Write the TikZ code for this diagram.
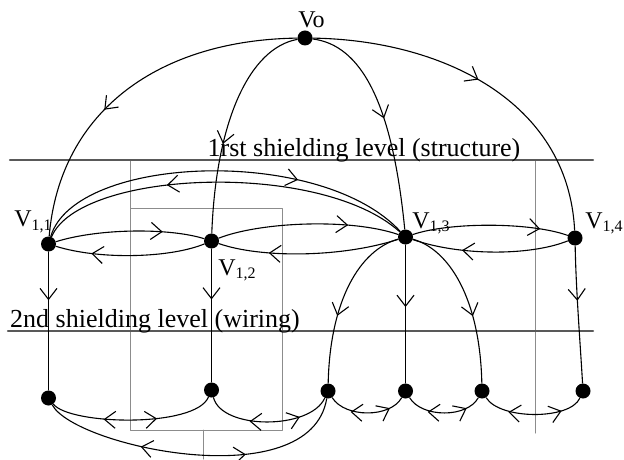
\documentclass[tikz,border=0pt]{standalone}
\usepackage{fontspec}
\setmainfont{Liberation Serif}
\usetikzlibrary{arrows.meta,decorations.markings}

\begin{document}
\begin{tikzpicture}[
  x=0.5pt,y=-0.5pt,
  line cap=round,
  line join=round,
  >={Straight Barb[length=5.5pt,width=8.5pt]},
  dot/.style={circle,fill=black,inner sep=0pt,minimum size=7.5pt},
  flow/.style={line width=0.55pt},
  arrowat/.style={postaction={decorate,decoration={markings,
    mark=at position #1 with {\arrow{>}}}}},
  arrowback/.style={postaction={decorate,decoration={markings,
    mark=at position #1 with {\arrow{<}}}}},
  level line/.style={draw=black!65,line width=1.1pt},
  box line/.style={draw=black!45,line width=0.5pt},
  label text/.style={font=\fontsize{12}{14}\selectfont,inner sep=0pt},
  level text/.style={font=\fontsize{13}{15}\selectfont,inner sep=0pt}
]
\useasboundingbox (0,0) rectangle (624,459);

% Shielding levels and the boxes behind the graph.
\draw[box line] (130,160) -- (130,430);
\draw[box line] (130,209) rectangle (282,430);
\draw[box line] (535,160) -- (535,433);
\draw[box line] (203,430) -- (203,459);
\draw[level line] (10,160) -- (593,160);
\draw[level line] (8,331) -- (593,331);
\node[level text,anchor=base] (lvlone) at (364,157)
  {1rst shielding level (structure)};
\node[level text,anchor=base] (lvltwo) at (155,327)
  {2nd shielding level (wiring)};

% Vertices.
\node[dot] (v0) at (305,38) {};
\foreach \n/\x/\y in {v11/48.5/244,v12/211.5/241,v13/405.5/237,v14/575/238} {
  \node[dot] (\n) at (\x,\y) {};
}
\foreach \n/\x/\y in {b1/48.5/398,b2/211.5/390,b3/328/391,
                      b4/405.5/391,b5/482/391,b6/583/391} {
  \node[dot] (\n) at (\x,\y) {};
}

\node[label text,anchor=base west] (lv0) at (298,28) {Vo};
\node[label text,anchor=base west] (lv11) at (14,227) {V\textsubscript{1,1}};
\node[label text,anchor=base west] (lv12) at (218,275) {V\textsubscript{1,2}};
\node[label text,anchor=base west] (lv13) at (412,228) {V\textsubscript{1,3}};
\node[label text,anchor=base west] (lv14) at (585,228) {V\textsubscript{1,4}};

% From the source to the first level.
\draw[flow,arrowat=0.6] (v0) .. controls (160,40) and (60,110) .. (v11);
\draw[flow,arrowat=0.6] (v0) .. controls (250,48) and (216,120) .. (v12);
\draw[flow,arrowat=0.5] (v0) .. controls (360,45) and (392,100) .. (v13);
\draw[flow,arrowat=0.48] (v0) .. controls (440,40) and (568,100) .. (v14);

% Inside the first level.
\draw[flow,arrowat=0.72] (v11) .. controls (100,228) and (170,228) .. (v12);
\draw[flow,arrowat=0.76] (v12) .. controls (170,258) and (100,260) .. (v11);
\draw[flow,arrowat=0.72] (v12) .. controls (260,222) and (350,218) .. (v13);
\draw[flow,arrowat=0.72] (v13) .. controls (340,258) and (260,258) .. (v12);
\draw[flow,arrowat=0.7] (v11) .. controls (75,155) and (320,145) .. (v13);
\draw[flow,arrowat=0.65] (v13) .. controls (320,160) and (80,170) .. (v11);
\draw[flow,arrowat=0.82] (v13) .. controls (450,222) and (530,222) .. (v14);
\draw[flow,arrowat=0.68] (v14) .. controls (530,256) and (460,256) .. (v13);

% Down through the second level.
\draw[flow,arrowat=0.35] (v11) -- (b1);
\draw[flow,arrowat=0.38] (v12) -- (b2);
\draw[flow,arrowat=0.6] (v13) .. controls (360,250) and (330,300) .. (b3);
\draw[flow,arrowat=0.45] (v13) -- (b4);
\draw[flow,arrowat=0.6] (v13) .. controls (450,250) and (480,300) .. (b5);
\draw[flow,arrowat=0.4] (v14) .. controls (576,290) and (580,340) .. (b6);

% Wiring between the lower vertices, both ways.
\draw[flow,arrowback=0.4,arrowat=0.65] (b1) .. controls (70,425) and (195,428) .. (b2);
\draw[flow,arrowback=0.45,arrowat=0.75] (b2) .. controls (222,430) and (310,430) .. (b3);
\draw[flow,arrowback=0.36,arrowat=0.66] (b1) .. controls (75,447) and (310,497) .. (b3);
\draw[flow,arrowback=0.45,arrowat=0.8] (b3) .. controls (345,418) and (390,418) .. (b4);
\draw[flow,arrowback=0.45,arrowat=0.8] (b4) .. controls (422,418) and (467,418) .. (b5);
\draw[flow,arrowback=0.38,arrowat=0.78] (b5) .. controls (500,420) and (570,420) .. (b6);

\end{tikzpicture}
\end{document}
